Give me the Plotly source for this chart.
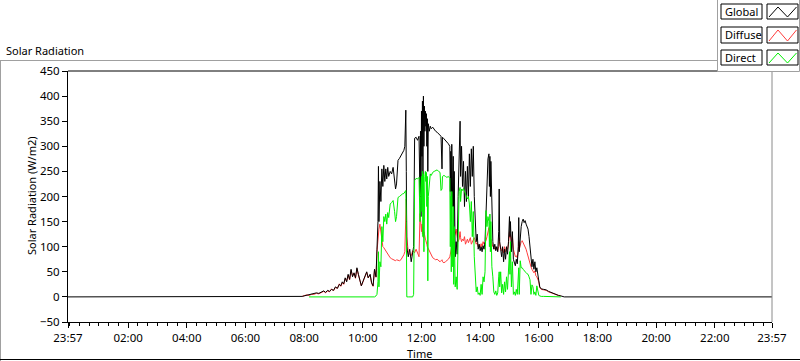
import plotly.graph_objects as go

PREV = "2023-12-31"
DAY = "2024-01-01"

times = [
    "23:57", "07:50", "07:56", "08:00", "08:05", "08:10", "08:15", "08:20", "08:25", "08:30",
    "08:35", "08:40", "08:44", "08:48", "08:52", "08:56", "09:00", "09:04", "09:08", "09:12",
    "09:15", "09:18", "09:21", "09:24", "09:27", "09:30", "09:33", "09:36", "09:39", "09:42",
    "09:45", "09:48", "09:51", "09:54", "09:57", "10:00", "10:04", "10:08", "10:11", "10:15",
    "10:18", "10:21", "10:24", "10:27", "10:29", "10:31", "10:32", "10:33", "10:35", "10:37",
    "10:39", "10:41", "10:43", "10:45", "10:47", "10:49", "10:51", "10:53", "10:56", "10:59",
    "11:02", "11:05", "11:07", "11:09", "11:12", "11:15", "11:18", "11:21", "11:24", "11:26",
    "11:28", "11:29", "11:30", "11:33", "11:36", "11:39", "11:42", "11:44", "11:46", "11:49",
    "11:52", "11:55", "11:57", "11:58", "11:59", "12:00", "12:01", "12:02", "12:03", "12:04",
    "12:05", "12:06", "12:07", "12:08", "12:09", "12:10", "12:11", "12:12", "12:13", "12:14",
    "12:16", "12:18", "12:20", "12:23", "12:26", "12:29", "12:32", "12:35", "12:38", "12:40",
    "12:42", "12:43", "12:46", "12:49", "12:52", "12:55", "12:58", "12:59", "13:00", "13:01",
    "13:02", "13:04", "13:05", "13:06", "13:07", "13:09", "13:11", "13:13", "13:15", "13:17",
    "13:19", "13:20", "13:22", "13:24", "13:26", "13:28", "13:30", "13:32", "13:34", "13:36",
    "13:38", "13:40", "13:42", "13:44", "13:46", "13:48", "13:50", "13:52", "13:54", "13:56",
    "13:58", "14:00", "14:02", "14:04", "14:06", "14:08", "14:10", "14:12", "14:14", "14:16",
    "14:18", "14:19", "14:20", "14:21", "14:22", "14:24", "14:26", "14:28", "14:30", "14:32",
    "14:34", "14:36", "14:38", "14:39", "14:40", "14:42", "14:44", "14:46", "14:48", "14:50",
    "14:52", "14:54", "14:56", "14:58", "15:00", "15:01", "15:02", "15:04", "15:06", "15:08",
    "15:10", "15:12", "15:14", "15:16", "15:18", "15:19", "15:20", "15:22", "15:24", "15:26",
    "15:28", "15:30", "15:32", "15:34", "15:36", "15:38", "15:40", "15:42", "15:44", "15:46",
    "15:48", "15:50", "15:52", "15:54", "15:56", "15:58", "16:00", "16:02", "16:05", "16:10",
    "16:15", "16:20", "16:25", "16:30", "16:35", "16:40", "16:45", "16:48", "16:52", "23:57",
]

global_rad = [
    0, 0, 1, 2, 3, 4, 5, 6, 8, 7,
    10, 12, 9, 13, 11, 15, 13, 20, 17, 25,
    22, 30, 26, 38, 30, 45, 35, 55, 40, 48,
    38, 58, 45, 35, 22, 30, 42, 50, 38, 45,
    28, 22, 55, 40, 95, 150, 260, 150, 230, 190,
    255, 220, 262, 230, 255, 235, 258, 240, 250, 245,
    258, 230, 215, 225, 272, 276, 282, 286, 292, 300,
    372, 250, 100, 80, 95, 70, 90, 100, 316, 318,
    312, 320, 200, 330, 160, 370, 280, 390, 240, 400,
    300, 380, 330, 370, 340, 365, 300, 355, 250, 345,
    330, 340, 335, 338, 333, 330, 328, 325, 322, 320,
    255, 318, 315, 312, 310, 305, 300, 210, 290, 150,
    304, 180, 280, 120, 250, 80, 110, 85, 200, 270,
    350, 240, 300, 220, 270, 180, 250, 190, 260, 200,
    285, 220, 295, 240, 300, 200, 130, 110, 125, 95,
    105, 92, 100, 90, 102, 95, 110, 180, 250, 275,
    285, 220, 280, 200, 270, 180, 110, 95, 105, 92,
    100, 90, 130, 215, 110, 95, 80, 100, 70, 95,
    75, 100, 85, 110, 160, 120, 150, 90, 130, 75,
    70, 62, 75, 66, 100, 158, 90, 130, 140, 150,
    155, 148, 152, 145, 140, 135, 120, 100, 80, 60,
    75, 55, 70, 50, 58, 40, 32, 20, 16, 15,
    14, 11, 9, 6, 5, 3, 2, 1, 0, 0,
]

diffuse_rad = [
    None, None, 1, 3, 4, 3, 5, 5, 7, 6,
    9, 11, 8, 12, 10, 16, 12, 19, 17, 26,
    21, 28, 25, 36, 32, 43, 34, 53, 42, 47,
    37, 56, 44, 34, 22, 29, 40, 49, 38, 44,
    27, 21, 54, 39, 90, 118, 125, 135, 145, 130,
    110, 100, 98, 95, 90, 88, 85, 82, 78, 76,
    74, 72, 72, 74, 73, 72, 74, 78, 84, 90,
    160, 195, 120, 88, 85, 82, 92, 90, 88, 95,
    85, 80, 166, 150, 135, 130, 145, 125, 140, 118,
    130, 120, 125, 115, 112, 110, 105, 100, 98, 95,
    90, 85, 82, 78, 76, 74, 75, 72, 70, 72,
    74, 70, 68, 70, 72, 75, 80, 85, 90, 95,
    100, 110, 105, 115, 120, 125, 135, 120, 110, 115,
    130, 118, 110, 115, 112, 120, 105, 110, 115, 108,
    112, 118, 105, 110, 115, 118, 112, 105, 108, 100,
    104, 98, 106, 100, 110, 105, 108, 112, 120, 130,
    138, 125, 118, 110, 115, 105, 100, 98, 95, 100,
    96, 92, 100, 118, 105, 98, 92, 96, 88, 100,
    90, 98, 95, 105, 130, 118, 125, 110, 120, 95,
    85, 80, 82, 78, 90, 110, 95, 105, 110, 112,
    108, 102, 98, 95, 88, 80, 75, 68, 60, 55,
    50, 48, 52, 42, 40, 35, 30, 18, 15, 14,
    13, 10, 8, 6, 5, 3, 2, None, None, None,
]

direct_rad = [
    None, None, None, None, None, 0, 0, 0, 0, 0,
    0, 0, 0, 0, 0, 0, 0, 0, 0, 0,
    0, 0, 0, 0, 0, 0, 0, 0, 0, 0,
    0, 0, 0, 0, 0, 0, 0, 0, 0, 0,
    0, 0, 0, 2, 5, 30, 90, 20, 70, 60,
    140, 110, 160, 150, 165, 145, 168, 158, 185, 188,
    192, 170, 150, 160, 198, 200, 203, 205, 206, 210,
    212, 150, 0, 0, 0, 0, 0, 5, 232, 236,
    235, 238, 150, 200, 240, 240, 170, 250, 120, 245,
    90, 235, 240, 250, 230, 248, 180, 240, 32, 200,
    236, 245, 242, 248, 250, 252, 253, 250, 248, 212,
    215, 240, 242, 240, 238, 240, 236, 100, 200, 50,
    210, 60, 180, 25, 140, 20, 40, 15, 120, 210,
    218, 190, 215, 212, 216, 208, 205, 200, 195, 200,
    185, 150, 190, 120, 170, 80, 30, 10, 20, 5,
    8, 3, 25, 5, 40, 30, 50, 172, 140, 160,
    150, 100, 165, 90, 150, 60, 40, 10, 5, 12,
    3, 8, 40, 50, 20, 50, 8, 25, 5, 30,
    10, 40, 15, 60, 90, 45, 110, 20, 70, 5,
    10, 3, 15, 5, 30, 58, 5, 72, 58, 58,
    55, 52, 50, 48, 46, 45, 40, 34, 5, 24,
    20, 5, 10, 3, 22, 10, 3, 2, 1, 1,
    1, 1, 0, 0, 0, 0, 0, None, None, None,
]

tick_labels = ["23:57", "02:00", "04:00", "06:00", "08:00", "10:00", "12:00",
               "14:00", "16:00", "18:00", "20:00", "22:00", "23:57"]

y_ticks = [-50, 0, 50, 100, 150, 200, 250, 300, 350, 400, 450]

series_names = ["Global", "Diffuse", "Direct"]
series_colors = ["#000000", "#ff3c3c", "#00f000"]
series_values = [global_rad, diffuse_rad, direct_rad]
draw_order = [1, 0, 2]  # diffuse underneath global, direct on top


def to_dates(ts):
    return [(PREV if i == 0 else DAY) + " " + t for i, t in enumerate(ts)]


x_dates = to_dates(times)
tick_dates = to_dates(tick_labels)

fig = go.Figure()
for k in draw_order:
    fig.add_trace(go.Scatter(x=x_dates, y=series_values[k], mode="lines", name=series_names[k],
                             line=dict(color=series_colors[k], width=1), showlegend=False,
                             connectgaps=False))

# pixel -> paper helpers (plot area: x 68..772, y 71..322)
L, R, T, B = 68, 772, 71, 322


def PX(x):
    return (x - L) / (R - L)


def PY(y):
    return (B - y) / (B - T)


FONT = "Noto Sans"
FS = 11
shapes = []
annotations = []

# plot-area top / right borders
shapes.append(dict(type="line", xref="paper", yref="paper", x0=0, x1=1, y0=1, y1=1,
                   line=dict(color="#000000", width=1)))
shapes.append(dict(type="line", xref="paper", yref="paper", x0=1, x1=1, y0=0, y1=1,
                   line=dict(color="#8a8a8a", width=1)))
# outer frame
shapes.append(dict(type="line", xref="paper", yref="paper", x0=PX(0), x1=PX(717),
                   y0=PY(60.5), y1=PY(60.5), line=dict(color="#a0a0a0", width=1)))
shapes.append(dict(type="line", xref="paper", yref="paper", x0=PX(0.5), x1=PX(0.5),
                   y0=PY(60.5), y1=PY(361), line=dict(color="#a0a0a0", width=1)))
shapes.append(dict(type="line", xref="paper", yref="paper", x0=PX(0), x1=PX(800),
                   y0=PY(359.5), y1=PY(359.5), line=dict(color="#000000", width=1)))
# legend panel
shapes.append(dict(type="rect", xref="paper", yref="paper", x0=PX(717.5), x1=PX(799.5),
                   y0=PY(71.5), y1=PY(-2), fillcolor="white",
                   line=dict(color="#a0a0a0", width=1)))

legend_rows = [(4, 19), (27, 43), (50, 65)]
for (ytop, ybot), name, col in zip(legend_rows, series_names, series_colors):
    shapes.append(dict(type="rect", xref="paper", yref="paper", x0=PX(721), x1=PX(762),
                       y0=PY(ybot), y1=PY(ytop), fillcolor="white",
                       line=dict(color="#000000", width=1)))
    shapes.append(dict(type="rect", xref="paper", yref="paper", x0=PX(767), x1=PX(798),
                       y0=PY(ybot), y1=PY(ytop), fillcolor="white",
                       line=dict(color="#000000", width=1)))
    pts = [(769, ybot - 2), (778, ytop + 3), (787.5, ybot - 2), (796.5, ytop + 3)]
    path = "M " + " L ".join(f"{PX(a):.5f},{PY(b):.5f}" for a, b in pts)
    shapes.append(dict(type="path", xref="paper", yref="paper", path=path,
                       line=dict(color=col, width=1)))
    annotations.append(dict(text=name, xref="paper", yref="paper", x=PX(722.5),
                            y=PY((ytop + ybot) / 2), xanchor="left", yanchor="middle",
                            showarrow=False, font=dict(family=FONT, size=FS, color="#000000")))

annotations.append(dict(text="Solar Radiation", xref="paper", yref="paper", x=PX(4), y=PY(50),
                        xanchor="left", yanchor="middle", showarrow=False,
                        font=dict(family=FONT, size=FS, color="#000000")))
annotations.append(dict(text="Solar Radiation (W/m2)", xref="paper", yref="paper", x=PX(31),
                        y=PY(196), xanchor="center", yanchor="middle", textangle=-90,
                        showarrow=False, font=dict(family=FONT, size=FS, color="#000000")))
annotations.append(dict(text="Time", xref="paper", yref="paper", x=PX(419), y=PY(353),
                        xanchor="center", yanchor="middle", showarrow=False,
                        font=dict(family=FONT, size=FS, color="#000000")))

fig.update_layout(
    width=800, height=361, autosize=False,
    margin=dict(l=L, r=800 - R, t=T, b=361 - B, pad=0),
    paper_bgcolor="white", plot_bgcolor="white",
    showlegend=False,
    shapes=shapes, annotations=annotations,
    xaxis=dict(type="date", range=[tick_dates[0], tick_dates[-1]],
               tickvals=tick_dates, ticktext=tick_labels,
               ticks="outside", ticklen=5, tickcolor="#000000", tickwidth=1,
               showline=True, linecolor="#000000", linewidth=1,
               showgrid=False, zeroline=False,
               tickfont=dict(family=FONT, size=FS + 0.5, color="#000000"),
               minor=dict(ticks="outside", ticklen=3, dtick=20 * 60 * 1000,
                          tick0=DAY + " 00:00", tickcolor="#000000", showgrid=False)),
    yaxis=dict(range=[-50, 450], tickvals=y_ticks,
               ticks="outside", ticklen=5, tickcolor="#000000", tickwidth=1,
               showline=True, linecolor="#000000", linewidth=1,
               showgrid=False, zeroline=False,
               tickfont=dict(family=FONT, size=FS + 0.5, color="#000000")),
)

fig.write_html("out.html", config={"displayModeBar": False},
               post_script="document.body.style.margin='0';document.body.style.overflow='hidden';")
